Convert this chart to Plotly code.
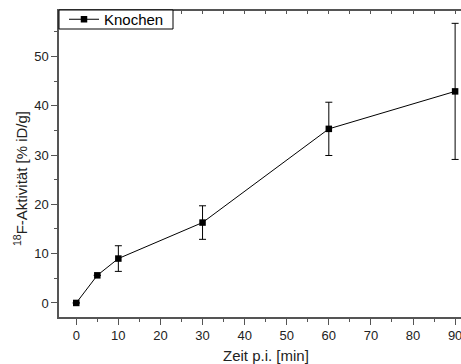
import plotly.graph_objects as go

zeit = [0, 5, 10, 30, 60, 90]
aktivitaet = [0.0, 5.6, 9.0, 16.3, 35.3, 42.9]
fehler = [0.0, 0.0, 2.6, 3.4, 5.4, 13.8]
x_ticks = [0, 10, 20, 30, 40, 50, 60, 70, 80, 90]
y_ticks = [0, 10, 20, 30, 40, 50]

FONT = "Liberation Sans, Arial, sans-serif"
AX = "#555555"
L, T, B = 59, 11, 317
W, H = 461, 364
PW, PH = W - L, B - T

def px(xp):
    return (xp - L) / PW

def py(yp):
    return (B - yp) / PH

fig = go.Figure()
fig.add_trace(go.Scatter(
    x=zeit, y=aktivitaet, mode="lines+markers", name="Knochen",
    line=dict(color="black", width=1),
    marker=dict(symbol="square", size=6.5, color="black"),
    error_y=dict(type="data", array=fehler, visible=True, color="black",
                 thickness=1, width=3.5),
))

xr = [-4.1, 91.4]
yr = [-2.85, 59.2]

minor_out = dict(dtick=5, tick0=0, ticks="outside", ticklen=3,
                 tickcolor=AX, tickwidth=1)

fig.update_layout(
    width=W, height=H,
    margin=dict(l=L, r=0, t=T, b=H - B, pad=0),
    paper_bgcolor="white", plot_bgcolor="white",
    font=dict(family=FONT, size=13, color="#222222"),
    showlegend=True,
    legend=dict(x=px(64), y=py(19.5), xanchor="left", yanchor="middle",
                borderwidth=0, bgcolor="rgba(0,0,0,0)",
                font=dict(size=15, color="black"),
                itemwidth=30, tracegroupgap=0),
    xaxis=dict(range=xr, tickvals=x_ticks, ticks="outside", ticklen=6,
               tickwidth=1, tickcolor=AX, showline=True, linecolor=AX,
               linewidth=1.5, showgrid=False, zeroline=False,
               minor=minor_out, ticklabeloverflow="allow",
               tickfont=dict(size=13)),
    yaxis=dict(range=yr, tickvals=y_ticks, ticks="outside", ticklen=6,
               tickwidth=1, tickcolor=AX, showline=True, linecolor=AX,
               linewidth=1.5, showgrid=False, zeroline=False,
               minor=minor_out, tickfont=dict(size=13)),
    xaxis2=dict(range=xr, overlaying="x", side="top", tickvals=x_ticks,
                ticks="inside", ticklen=3, tickwidth=1, tickcolor=AX,
                showline=True, linecolor=AX, linewidth=1.5,
                showticklabels=False, showgrid=False, zeroline=False,
                minor=dict(dtick=5, tick0=0, ticks="inside", ticklen=3,
                           tickcolor=AX, tickwidth=1)),
)
# invisible trace to activate top axis
fig.add_trace(go.Scatter(x=[zeit[0]], y=[aktivitaet[0]], xaxis="x2",
                         mode="markers", marker=dict(opacity=0),
                         showlegend=False, hoverinfo="skip"))

# legend frame
fig.add_shape(type="rect", xref="paper", yref="paper",
              x0=px(59), x1=px(173), y0=py(29), y1=py(10),
              line=dict(color="black", width=1), fillcolor="white",
              layer="above")

fig.add_annotation(text="Zeit p.i. [min]", xref="paper", yref="paper",
                   x=px(265.5), y=py(355), showarrow=False,
                   font=dict(size=15, color="#222222"),
                   xanchor="center", yanchor="middle")
fig.add_annotation(text="<sup>18</sup>F-Aktivität [% iD/g]", xref="paper",
                   yref="paper", x=px(20), y=py(179),
                   showarrow=False, textangle=-90,
                   font=dict(size=15, color="#222222"),
                   xanchor="center", yanchor="middle")

fig.write_html("out.html", config={"displayModeBar": False},
               post_script="document.body.style.margin='0';document.body.style.overflow='hidden';")
